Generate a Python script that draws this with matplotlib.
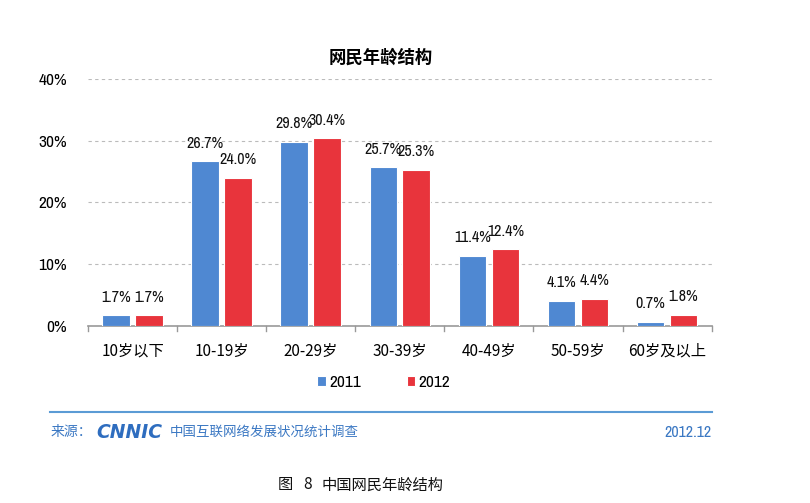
import matplotlib
matplotlib.use("Agg")
import matplotlib.pyplot as plt
import numpy as np

plt.rcParams['font.family'] = ['Noto Sans CJK SC', 'DejaVu Sans']

categories = ["10岁以下", "10-19岁", "20-29岁", "30-39岁", "40-49岁", "50-59岁", "60岁及以上"]
v2011 = [1.7, 26.7, 29.8, 25.7, 11.4, 4.1, 0.7]
v2012 = [1.7, 24.0, 30.4, 25.3, 12.4, 4.4, 1.8]
yticks = [0, 10, 20, 30, 40]
series_names = ["2011", "2012"]

c_blue = "#4F88D2"
c_red = "#E8343C"
c_src = "#3B78C3"
narrow = ["Archivo Narrow", "Liberation Sans"]

fig = plt.figure(figsize=(8.1, 5.03), dpi=100)
fig.patch.set_facecolor("white")

ax = fig.add_axes([0.1086, 0.352, 0.770, 0.491])
x = np.arange(len(categories))
w = 0.31
b1 = ax.bar(x - w / 2 - 0.03, v2011, w, color=c_blue, edgecolor="white", linewidth=0.8,
            label=series_names[0], zorder=3)
b2 = ax.bar(x + w / 2 + 0.03, v2012, w, color=c_red, edgecolor="white", linewidth=0.8,
            label=series_names[1], zorder=3)

for bars, vals in ((b1, v2011), (b2, v2012)):
    for r, v in zip(bars, vals):
        ax.text(r.get_x() + r.get_width() / 2, v + 1.7, f"{v:.1f}%", ha="center", va="bottom",
                fontsize=11.5, color="#111111", family=narrow, zorder=4)

ax.set_xlim(-0.5, len(categories) - 0.5)
ax.set_ylim(0, 40)
ax.set_yticks(yticks)
ax.set_yticklabels([f"{t}%" for t in yticks], fontsize=12.5, family=narrow)
ax.set_xticks(x)
ax.set_xticklabels(categories, fontsize=11)
ax.tick_params(axis="y", length=0, pad=15)
ax.tick_params(axis="x", length=0, pad=12)
for t in np.arange(-0.5, len(categories), 1.0):
    ax.plot([t, t], [0, -0.8], color="#999999", lw=1, clip_on=False, zorder=3)
ax.grid(axis="y", linestyle=(0, (3, 3)), color="#BBBBBB", lw=0.8, zorder=1)
ax.set_axisbelow(True)
for s in ("top", "right", "left"):
    ax.spines[s].set_visible(False)
ax.spines["bottom"].set_color("#999999")
ax.spines["bottom"].set_linewidth(1.2)

ax.set_title("网民年龄结构", fontsize=12.5, fontweight="bold", pad=12, x=0.47)

fig.legend(handles=[b1, b2], labels=series_names, loc="center", bbox_to_anchor=(0.474, 0.24),
           ncol=2, frameon=False, prop={"family": narrow, "size": 12.5}, handlelength=0.5,
           handleheight=0.5, columnspacing=2.6, handletextpad=0.2)

fig.add_artist(plt.Line2D([0.062, 0.879], [0.181, 0.181], color="#5B9BD5", lw=1.5))
fig.text(0.062, 0.141, "来源：", fontsize=10, color=c_src, va="center", ha="left")
fig.text(0.119, 0.141, "CNNIC", fontsize=13.5, color="#2E6DBF", va="center", ha="left",
         style="italic", fontweight="bold", family="DejaVu Sans")
fig.text(0.210, 0.141, "中国互联网络发展状况统计调查", fontsize=9.7, color=c_src, va="center", ha="left")
fig.text(0.879, 0.141, "2012.12", fontsize=11.5, color=c_src, va="center", ha="right",
         family=narrow)

fig.text(278 / 810, 0.036, "图", fontsize=11, color="#111111", ha="left", va="center")
fig.text(303 / 810, 0.036, "8", fontsize=11, color="#111111", ha="left", va="center")
fig.text(322 / 810, 0.036, "中国网民年龄结构", fontsize=11, color="#111111", ha="left", va="center")

fig.savefig("out.png", dpi=100)
